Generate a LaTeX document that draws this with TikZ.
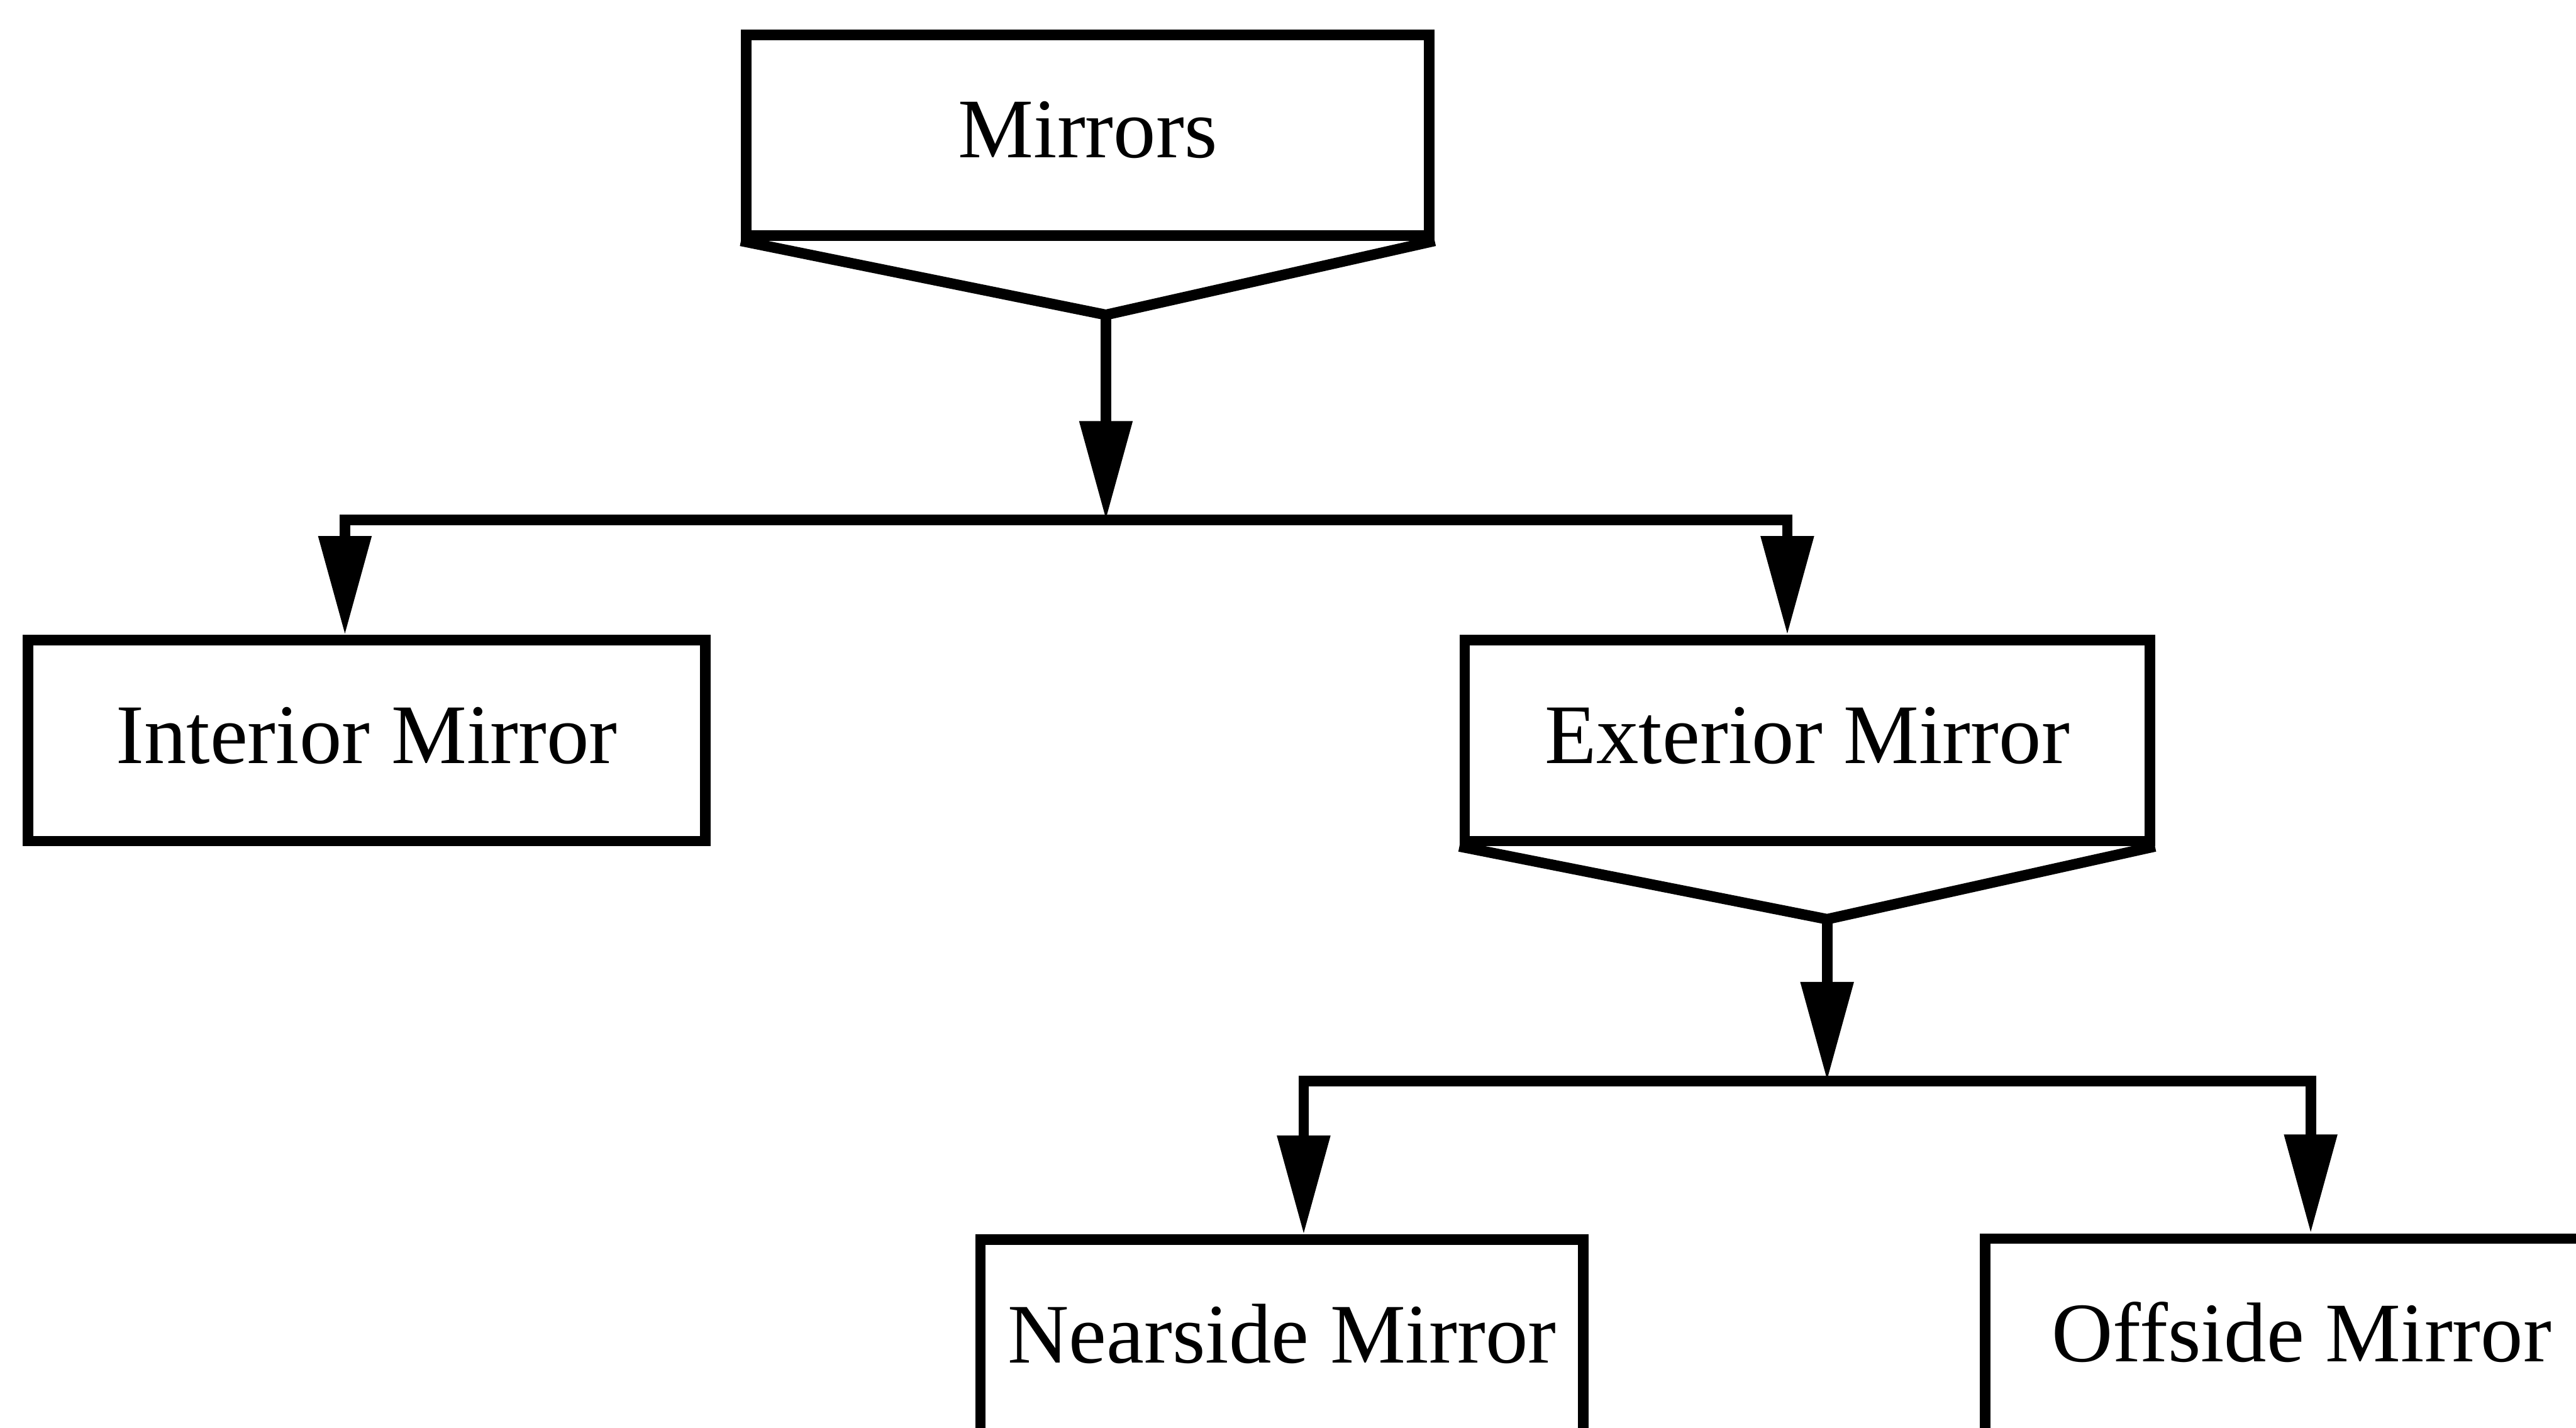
\documentclass[tikz,border=0pt]{standalone}
\usepackage{fontspec}
\setmainfont{Liberation Serif}
\usetikzlibrary{arrows.meta}

\begin{document}
\begin{tikzpicture}[line width = 2.5pt,
								box/.style = {rectangle, draw, fill = white,
								minimum height = 1.665cm, text height = 0.5cm,
								text depth = 0.125cm, inner sep = 0pt,
								font = \fontsize{20pt}{24pt}\selectfont},
								arr/.style = {-{Triangle[length = 0.82cm, width = 0.42cm]}}]

				\useasboundingbox (0,0) rectangle (21.36,-11.835);
				\clip (0,0) rectangle (21.36,-11.835);

				% first level
				\node [box, minimum width = 5.665cm] (mirrors) at (9.02,-1.12) {Mirrors};
				\coordinate (m_tip) at (9.17,-2.61);
				\draw [line join = miter] (mirrors.south west) -- (m_tip) -- (mirrors.south east);

				\coordinate (bus_1l) at (2.86,-4.31);
				\coordinate (bus_1r) at (14.82,-4.31);

				\node [box, minimum width = 5.62cm] (interior) at (3.04,-6.14) {Interior Mirror};
				\node [box, minimum width = 5.68cm] (exterior) at (14.985,-6.14) {Exterior Mirror};

				\draw [arr] (m_tip) -- (m_tip |- bus_1l);
				\draw [arr] (bus_1r) -- (bus_1l) -- (bus_1l |- interior.north);
				\draw [arr] (bus_1l) -- (bus_1r) -- (bus_1r |- exterior.north);

				% second level
				\coordinate (e_tip) at (15.15,-7.62);
				\draw [line join = miter] (exterior.south west) -- (e_tip) -- (exterior.south east);

				\coordinate (bus_2l) at (10.81,-8.96);
				\coordinate (bus_2r) at (19.16,-8.96);

				\node [box, minimum width = 5.0cm] (nearside) at (10.63,-11.11) {Nearside Mirror};
				\node [box, minimum width = 5.25cm] (offside) at (19.085,-11.10) {Offside Mirror};

				\draw [arr] (e_tip) -- (e_tip |- bus_2l);
				\draw [arr] (bus_2r) -- (bus_2l) -- (bus_2l |- nearside.north);
				\draw [arr] (bus_2l) -- (bus_2r) -- (bus_2r |- offside.north);
			\end{tikzpicture}
\end{document}
